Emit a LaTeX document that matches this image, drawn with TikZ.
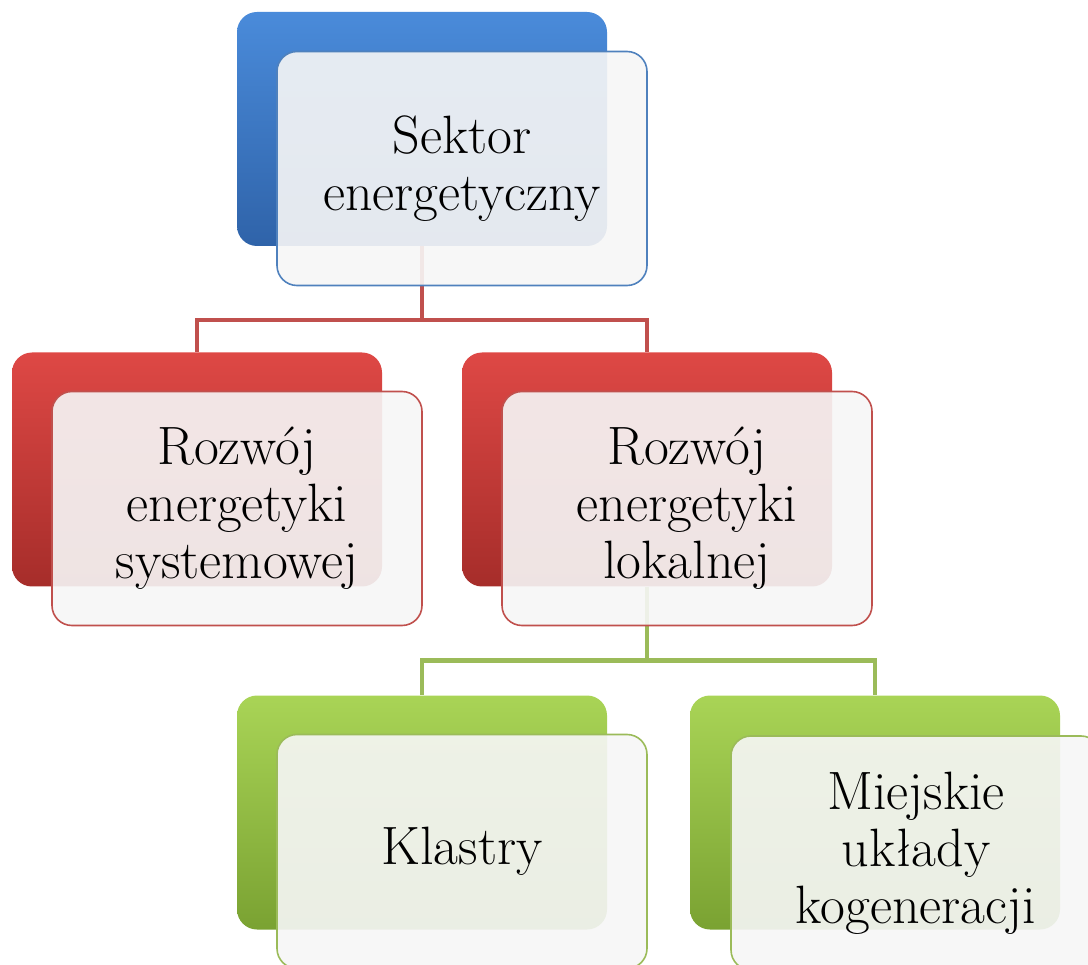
\documentclass[tikz,border=0pt]{standalone}
\usetikzlibrary{positioning}
\definecolor{blueT}{HTML}{4A8BDA}
\definecolor{blueB}{HTML}{2F63A9}
\definecolor{blueE}{HTML}{4F81BD}
\definecolor{redT}{HTML}{DE4845}
\definecolor{redB}{HTML}{A62D2A}
\definecolor{redE}{HTML}{C0504D}
\definecolor{greenT}{HTML}{A9D456}
\definecolor{greenB}{HTML}{7AA232}
\definecolor{greenE}{HTML}{9BBB59}
\definecolor{frontfill}{HTML}{F6F6F6}
\tikzset{
  backbox/.style={rounded corners=20pt, minimum width=370pt, minimum height=234pt,
    shading=axis, shading angle=0, inner sep=0pt},
  frontbox/.style={rounded corners=20pt, minimum width=370pt, minimum height=234pt,
    fill=frontfill, fill opacity=0.91, text opacity=1, line width=1.6pt, inner sep=0pt,
    align=center, font=\fontsize{54}{57}\selectfont},
  conn/.style={line width=4.5pt},
}
\begin{document}
\begin{tikzpicture}[x=1pt,y=-1pt]
\useasboundingbox (0,0) rectangle (1088,965);
\clip (0,0) rectangle (1088,965);
% back boxes
\node[backbox, top color=blueT, bottom color=blueB] (b0) at (422,129) {};
\node[backbox, top color=redT, bottom color=redB] (b1) at (197,469.5) {};
\node[backbox, top color=redT, bottom color=redB] (b2) at (647,469.5) {};
\node[backbox, top color=greenT, bottom color=greenB] (b3) at (422,812.5) {};
\node[backbox, top color=greenT, bottom color=greenB] (b4) at (875,812.5) {};
% connectors
\draw[conn, draw=redE] (b0.south) -- ++(0,74) coordinate (r0) -| (b1.north);
\draw[conn, draw=redE] (r0) -| (b2.north);
\draw[conn, draw=greenE] (b2.south) -- ++(0,74) coordinate (g0) -| (b3.north);
\draw[conn, draw=greenE] (g0) -| (b4.north);
% front boxes
\node[frontbox, draw=blueE] (f0) at (462,168.5) {Sektor\\energetyczny};
\node[frontbox, draw=redE] (f1) at (237,508.5) {Rozwój\\energetyki\\systemowej};
\node[frontbox, draw=redE] (f2) at (687,508.5) {Rozwój\\energetyki\\lokalnej};
\node[frontbox, draw=greenE] (f3) at (462,851.5) {Klastry};
\node[frontbox, draw=greenE] (f4) at (916,853) {Miejskie\\układy\\kogeneracji};
\end{tikzpicture}
\end{document}
